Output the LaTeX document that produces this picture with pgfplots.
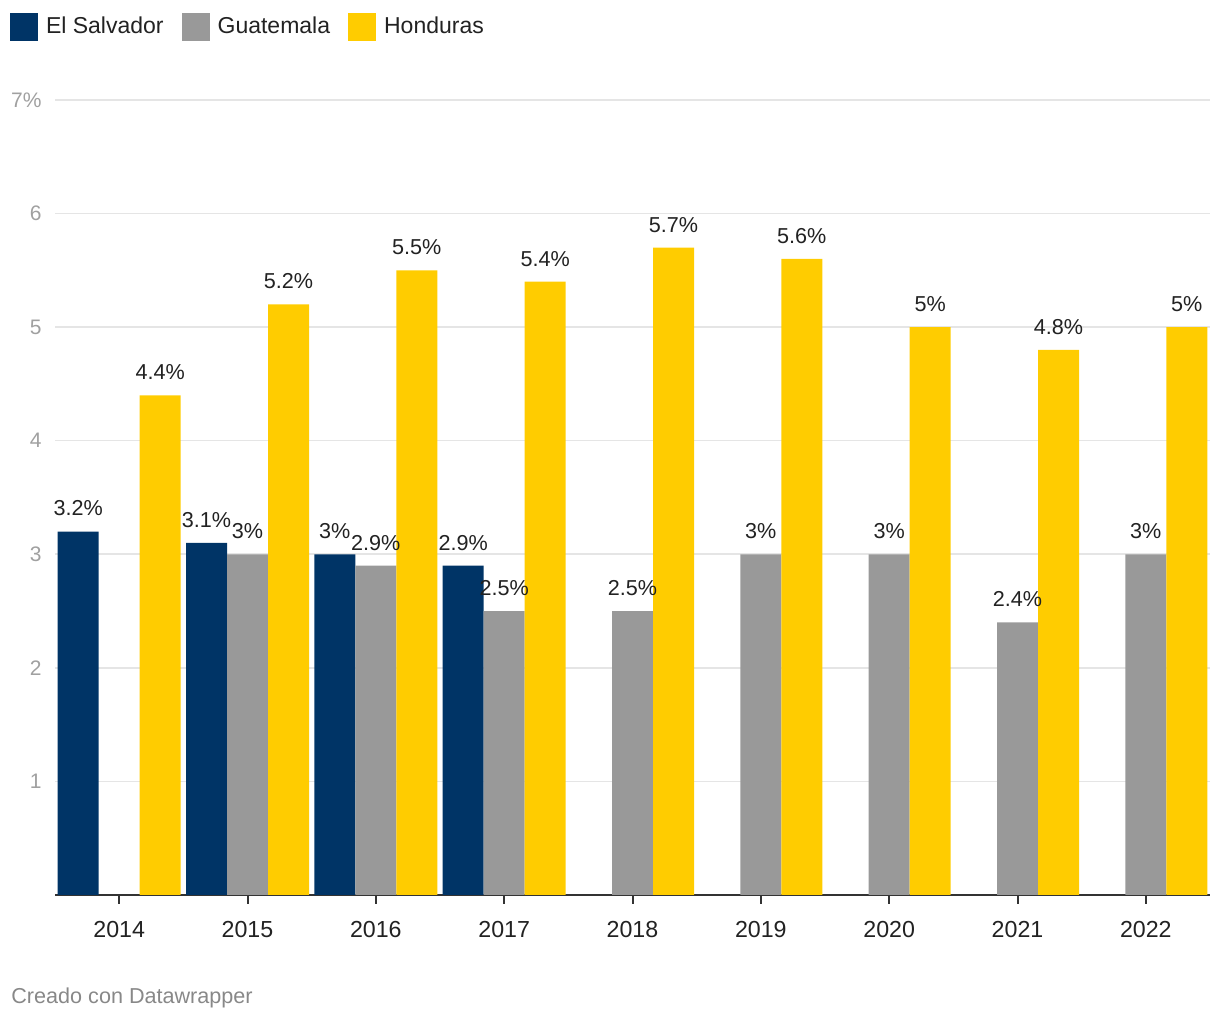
\documentclass[border=0pt]{standalone}
\usepackage{fontspec}
\setmainfont{Liberation Sans}
\usepackage{pgfplots}
\pgfplotsset{compat=1.18}
\definecolor{esblue}{HTML}{003466}
\definecolor{gtgray}{HTML}{999999}
\definecolor{hnyellow}{HTML}{FFCC00}
\definecolor{gridc}{HTML}{E5E5E5}
\definecolor{axisc}{HTML}{333333}
\definecolor{ytickc}{HTML}{A0A0A0}
\definecolor{textc}{HTML}{222222}
\definecolor{footc}{HTML}{888888}
\begin{document}
\begin{tikzpicture}
\useasboundingbox (0,0) rectangle (610pt,510pt);
\begin{axis}[
  at={(27.5pt,62.5pt)}, anchor=south west,
  scale only axis, width=577.5pt, height=397.5pt,
  xmin=-0.5, xmax=8.5, ymin=0, ymax=7,
  ybar=0pt, bar width=20.5pt,
  axis x line*=bottom, axis y line*=left,
  x axis line style={draw=axisc, line width=1pt},
  y axis line style={draw=none},
  xtick={0,...,8},
  xticklabels={2014,2015,2016,2017,2018,2019,2020,2021,2022},
  tick align=outside,
  major tick length=4.5pt,
  xtick style={draw=axisc, line width=1pt},
  ytick={1,...,7},
  yticklabels={1,2,3,4,5,6,7\%},
  ytick style={draw=none},
  ymajorgrids, grid style={draw=gridc, line width=0.8pt},
  xticklabel style={font=\fontsize{11.6}{13}\selectfont, text=textc, inner sep=0pt, yshift=-8.5pt},
  yticklabel style={font=\fontsize{10.5}{12}\selectfont, text=ytickc, anchor=east, inner sep=0pt, xshift=-2pt},
  /pgf/number format/assume math mode=true,
  /pgf/number format/.cd, fixed, precision=1, /pgfplots/.cd,
  nodes near coords={\pgfmathprintnumber{\pgfplotspointmeta}\%},
  every node near coord/.append style={font=\fontsize{10.8}{12}\selectfont, text=textc, anchor=south, inner sep=0pt, yshift=7.5pt},
  clip=false,
  legend columns=3,
  legend image code/.code={\fill[#1] (0pt,-7pt) rectangle (14pt,7pt);},
  legend style={draw=none, fill=none, at={(-0.03896,1.1094)}, anchor=north west,
    inner sep=0pt, outer sep=0pt, font=\fontsize{11.5}{13}\selectfont, text=textc,
    nodes={inner sep=0pt},
    /tikz/every odd column/.style={column sep=4pt},
    /tikz/every even column/.style={column sep=9pt}},
]
\addplot[fill=esblue, draw=none] coordinates {(0,3.2) (1,3.1) (2,3.0) (3,2.9)};
\addlegendentry{El Salvador}
\addplot[fill=gtgray, draw=none] coordinates {(1,3.0) (2,2.9) (3,2.5) (4,2.5) (5,3.0) (6,3.0) (7,2.4) (8,3.0)};
\addlegendentry{Guatemala}
\addplot[fill=hnyellow, draw=none] coordinates {(0,4.4) (1,5.2) (2,5.5) (3,5.4) (4,5.7) (5,5.6) (6,5.0) (7,4.8) (8,5.0)};
\addlegendentry{Honduras}
\node[anchor=base west, inner sep=0pt, font=\fontsize{10.8}{12}\selectfont, text=footc] at (axis description cs:-0.0381,-0.1371) {Creado con Datawrapper};
\end{axis}
\end{tikzpicture}
\end{document}
